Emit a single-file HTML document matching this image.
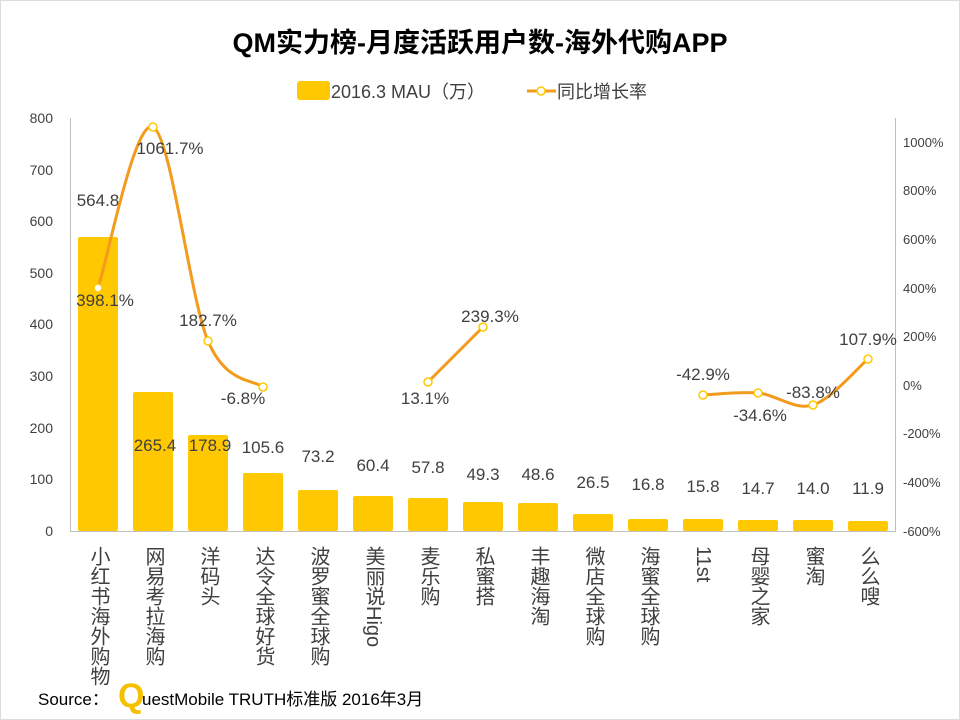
<!DOCTYPE html>
<html><head><meta charset="utf-8"><style>
body{margin:0;background:#fff;}
svg{display:block;font-family:"Liberation Sans","Noto Sans CJK SC",sans-serif;}
</style></head><body>
<svg width="960" height="720" viewBox="0 0 960 720">
<rect x="0" y="0" width="960" height="720" fill="#fff"/>
<rect x="0.5" y="0.5" width="959" height="719" fill="none" stroke="#ddd"/>
<text x="480" y="52" text-anchor="middle" font-size="27" font-weight="bold" fill="#000">QM实力榜-月度活跃用户数-海外代购APP</text>
<!-- legend -->
<rect x="297" y="81" width="33" height="19" rx="3" fill="#FFC800"/>
<text x="331" y="98" font-size="18" fill="#404040">2016.3 MAU（万）</text>
<line x1="527" y1="91" x2="556" y2="91" stroke="#F29B1D" stroke-width="3"/>
<circle cx="541" cy="91" r="4" fill="#fff" stroke="#FFC800" stroke-width="1.5"/>
<text x="557" y="98" font-size="18" fill="#404040">同比增长率</text>
<!-- axes -->
<g stroke="#bfbfbf" stroke-width="1" fill="none">
<line x1="70.5" y1="118" x2="70.5" y2="531"/>
<line x1="895.5" y1="118" x2="895.5" y2="531"/>
<line x1="70" y1="531.5" x2="896" y2="531.5"/>
</g>
<g font-size="14" fill="#404040" text-anchor="end">
<text x="53" y="536">0</text><text x="53" y="484">100</text><text x="53" y="433">200</text>
<text x="53" y="381">300</text><text x="53" y="329">400</text><text x="53" y="278">500</text>
<text x="53" y="226">600</text><text x="53" y="175">700</text><text x="53" y="123">800</text>
</g>
<g font-size="13" fill="#404040" text-anchor="start">
<text x="903" y="536">-600%</text><text x="903" y="487">-400%</text><text x="903" y="438">-200%</text>
<text x="903" y="390">0%</text><text x="903" y="341">200%</text><text x="903" y="293">400%</text>
<text x="903" y="244">600%</text><text x="903" y="195">800%</text><text x="903" y="147">1000%</text>
</g>
<!-- bars -->
<g fill="#FFC800">
<rect x="78" y="237" width="40" height="294" rx="2"/>
<rect x="133" y="392" width="40" height="139" rx="2"/>
<rect x="188" y="435" width="40" height="96" rx="2"/>
<rect x="243" y="473" width="40" height="58" rx="2"/>
<rect x="298" y="490" width="40" height="41" rx="2"/>
<rect x="353" y="496" width="40" height="35" rx="2"/>
<rect x="408" y="498" width="40" height="33" rx="2"/>
<rect x="463" y="502" width="40" height="29" rx="2"/>
<rect x="518" y="503" width="40" height="28" rx="2"/>
<rect x="573" y="514" width="40" height="17" rx="2"/>
<rect x="628" y="519" width="40" height="12" rx="2"/>
<rect x="683" y="519" width="40" height="12" rx="2"/>
<rect x="738" y="520" width="40" height="11" rx="2"/>
<rect x="793" y="520" width="40" height="11" rx="2"/>
<rect x="848" y="521" width="40" height="10" rx="2"/>
</g>
<!-- bar labels -->
<g font-size="17" fill="#404040" text-anchor="middle">
<text x="98" y="206">564.8</text><text x="155" y="451">265.4</text><text x="210" y="451">178.9</text>
<text x="263" y="453">105.6</text><text x="318" y="462">73.2</text><text x="373" y="471">60.4</text>
<text x="428" y="473">57.8</text><text x="483" y="480">49.3</text><text x="538" y="480">48.6</text>
<text x="593" y="488">26.5</text><text x="648" y="490">16.8</text><text x="703" y="492">15.8</text>
<text x="758" y="494">14.7</text><text x="813" y="494">14.0</text><text x="868" y="494">11.9</text>
</g>
<!-- lines -->
<g fill="none" stroke="#F29B1D" stroke-width="3">
<path d="M98,288 C107.2,261.2 134.7,118.2 153,127 C171.3,135.8 189.7,297.7 208,341 C226.3,384.3 253.8,379.3 263,387"/>
<path d="M428,382 L483,327"/>
<path d="M703,395 C712.2,394.7 739.7,391.3 758,393 C776.3,394.7 794.7,410.7 813,405 C831.3,399.3 858.8,366.7 868,359"/>
</g>
<g fill="#fff" stroke="#FFC800" stroke-width="1.5">
<circle cx="98" cy="288" r="4"/><circle cx="153" cy="127" r="4"/><circle cx="208" cy="341" r="4"/><circle cx="263" cy="387" r="4"/>
<circle cx="428" cy="382" r="4"/><circle cx="483" cy="327" r="4"/>
<circle cx="703" cy="395" r="4"/><circle cx="758" cy="393" r="4"/><circle cx="813" cy="405" r="4"/><circle cx="868" cy="359" r="4"/>
</g>
<g font-size="17" fill="#404040" text-anchor="middle">
<text x="105" y="306">398.1%</text><text x="170" y="154">1061.7%</text><text x="208" y="326">182.7%</text>
<text x="243" y="404">-6.8%</text><text x="425" y="404">13.1%</text><text x="490" y="322">239.3%</text>
<text x="703" y="380">-42.9%</text><text x="760" y="421">-34.6%</text><text x="813" y="398">-83.8%</text>
<text x="868" y="345">107.9%</text>
</g>
<!-- category labels -->
<g font-size="20" fill="#404040" style="writing-mode:vertical-rl;text-orientation:mixed;">
<text x="98" y="546">小红书海外购物</text><text x="153" y="546">网易考拉海购</text><text x="208" y="546">洋码头</text>
<text x="263" y="546">达令全球好货</text><text x="318" y="546">波罗蜜全球购</text><text x="373" y="546">美丽说Higo</text>
<text x="428" y="546">麦乐购</text><text x="483" y="546">私蜜搭</text><text x="538" y="546">丰趣海淘</text>
<text x="593" y="546">微店全球购</text><text x="648" y="546">海蜜全球购</text><text x="703" y="546">11st</text>
<text x="758" y="546">母婴之家</text><text x="813" y="546">蜜淘</text><text x="868" y="546">么么嗖</text>
</g>
<!-- source -->
<text x="38" y="705" font-size="17" fill="#000">Source：</text>
<text x="118" y="707" font-size="34" font-weight="bold" fill="#F5C000">Q</text>
<text x="142" y="705" font-size="17" fill="#000">uestMobile TRUTH标准版 2016年3月</text>
</svg>
</body></html>
